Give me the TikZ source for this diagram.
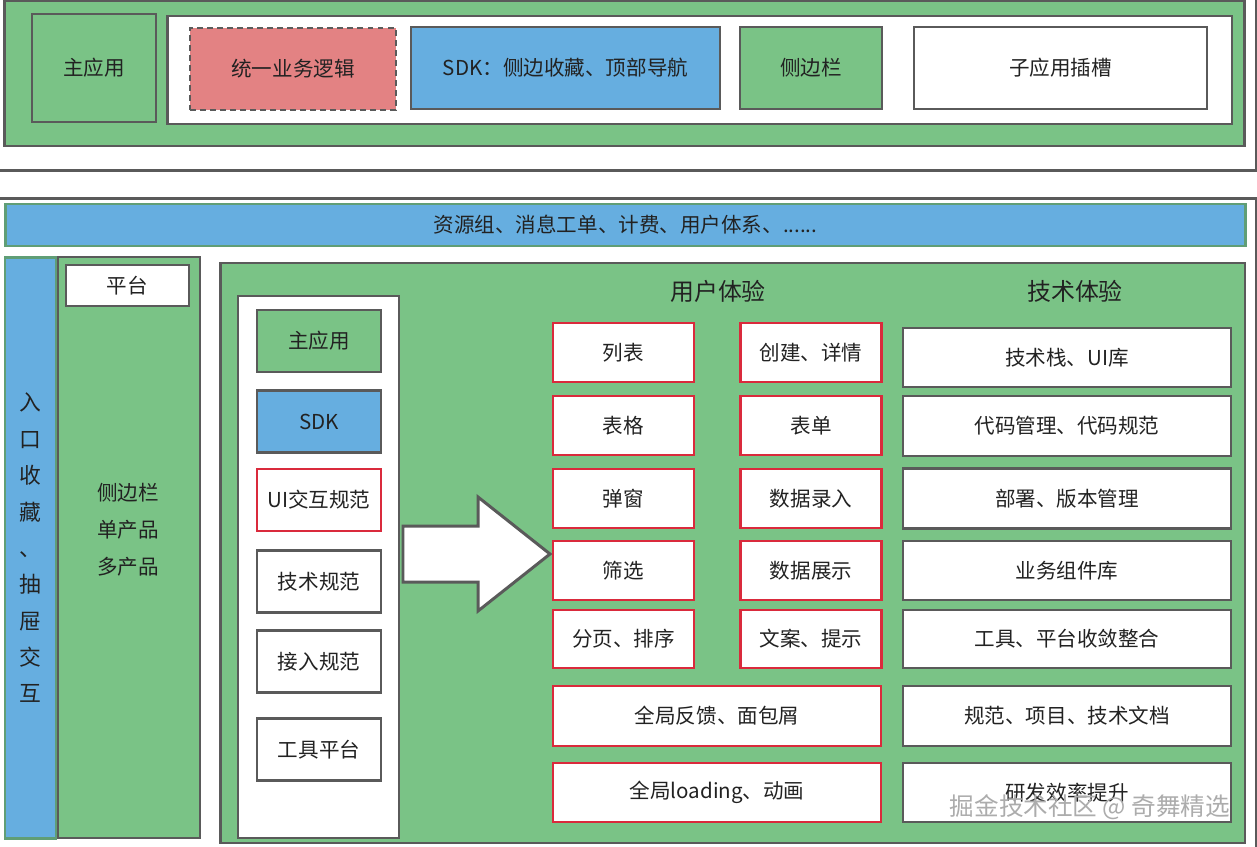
\documentclass[tikz,border=0pt]{standalone}
\usepackage{fontspec}
\setmainfont{Noto Sans CJK SC}
\definecolor{appgreen}{RGB}{122,195,134}
\definecolor{sdkblue}{RGB}{102,174,224}
\definecolor{logicred}{RGB}{227,130,131}
\definecolor{edgegray}{RGB}{90,90,90}
\definecolor{specred}{RGB}{218,42,60}
\definecolor{barline}{RGB}{96,158,118}
\definecolor{txtgray}{RGB}{34,34,34}
\newcommand{\bodyfont}{\fontsize{11.7pt}{14pt}\selectfont}
\tikzset{
  frame/.style={draw=edgegray, line width=1.7pt},
  cell/.style={draw=edgegray, line width=1.6pt, fill=white, inner sep=0pt,
    align=center, font=\bodyfont, text=txtgray},
  greencell/.style={cell, fill=appgreen},
  bluecell/.style={cell, fill=sdkblue},
  logiccell/.style={cell, fill=logicred, dash pattern=on 3.4pt off 2.3pt},
  redcell/.style={cell, draw=specred, line width=1.4pt},
  headtext/.style={font=\fontsize{13.6pt}{16pt}\selectfont, text=txtgray},
}

\begin{document}
\begin{tikzpicture}[x=0.02cm, y=-0.02cm]
  \useasboundingbox (0,0) rectangle (1257,846);

  % Top: application shell
  \draw[frame, fill=white] (-10,-10) rectangle (1256,170);
  \node[greencell, minimum width=24.82cm, minimum height=2.9cm] (shell) at (624.5,73.5) {};
  \node[greencell, minimum width=2.48cm, minimum height=2.16cm] (mainapp) at (94,68) {主应用};
  \node[cell, minimum width=21.3cm, minimum height=2.16cm] (slotbar) at (699.5,70) {};
  \node[logiccell, minimum width=4.12cm, minimum height=1.64cm] (logic) at (293,69) {统一业务逻辑};
  \node[bluecell, minimum width=6.18cm, minimum height=1.64cm] (sdk) at (565.5,68) {SDK：侧边收藏、顶部导航};
  \node[greencell, minimum width=2.84cm, minimum height=1.64cm] (sidebar) at (811,68) {侧边栏};
  \node[cell, minimum width=5.86cm, minimum height=1.64cm] (subapp) at (1060.5,68) {子应用插槽};

  % Bottom: platform
  \draw[frame, fill=white] (-10,198) rectangle (1256,870);
  \node[bluecell, draw=barline, minimum width=24.82cm, minimum height=0.84cm] (resbar) at (625.5,225)
    {资源组、消息工单、计费、用户体系、......};
  \node[bluecell, draw=barline, minimum width=1.02cm, minimum height=11.62cm,
        font=\fontsize{12.4pt}{20.7pt}\selectfont] (entry) at (30.5,548)
    {入\\口\\收\\藏\\、\\抽\\屉\\交\\互};
  \node[greencell, minimum width=2.84cm, minimum height=11.62cm] (platcol) at (129,547.5) {};
  \node[cell, minimum width=2.46cm, minimum height=0.82cm] (plat) at (127.5,285.5) {平台};
  \node[font=\fontsize{11.7pt}{21pt}\selectfont, align=center, text=txtgray] (platmodes) at (128,530)
    {侧边栏\\单产品\\多产品};

  % Stage with spec column
  \node[greencell, minimum width=20.5cm, minimum height=11.6cm] (stage) at (732.5,553) {};
  \node[cell, minimum width=3.22cm, minimum height=10.84cm] (speccol) at (318.5,567) {};
  \node[greencell, minimum width=2.48cm, minimum height=1.24cm] (spmain) at (319,341) {主应用};
  \node[bluecell, minimum width=2.48cm, minimum height=1.24cm] (spsdk) at (319,421.5) {SDK};
  \node[redcell, minimum width=2.48cm, minimum height=1.24cm] (spui) at (319,500) {UI交互规范};
  \node[cell, minimum width=2.48cm, minimum height=1.24cm] (sptech) at (319,581.5) {技术规范};
  \node[cell, minimum width=2.48cm, minimum height=1.24cm] (spjoin) at (319,661.5) {接入规范};
  \node[cell, minimum width=2.48cm, minimum height=1.24cm] (sptool) at (319,749.5) {工具平台};

  % Big arrow
  \draw[frame, fill=white, line join=miter] (403,526) -- (478,526) -- (478,497) -- (550,554)
    -- (478,611) -- (478,582) -- (403,582) -- cycle;

  % Headers
  \node[headtext] (uxhead) at (718,291) {用户体验};
  \node[headtext] (techhead) at (1075,291) {技术体验};

  % User experience
  \node[redcell, minimum width=2.82cm, minimum height=1.18cm] (uxlist) at (623.5,352.5) {列表};
  \node[redcell, minimum width=2.82cm, minimum height=1.18cm] (uxcreate) at (811,352.5) {创建、详情};
  \node[redcell, minimum width=2.82cm, minimum height=1.18cm] (uxtable) at (623.5,425.5) {表格};
  \node[redcell, minimum width=2.82cm, minimum height=1.18cm] (uxform) at (811,425.5) {表单};
  \node[redcell, minimum width=2.82cm, minimum height=1.18cm] (uxpopup) at (623.5,498.5) {弹窗};
  \node[redcell, minimum width=2.82cm, minimum height=1.18cm] (uxinput) at (811,498.5) {数据录入};
  \node[redcell, minimum width=2.82cm, minimum height=1.18cm] (uxfilter) at (623.5,570.5) {筛选};
  \node[redcell, minimum width=2.82cm, minimum height=1.18cm] (uxshow) at (811,570.5) {数据展示};
  \node[redcell, minimum width=2.82cm, minimum height=1.16cm] (uxpage) at (623.5,639) {分页、排序};
  \node[redcell, minimum width=2.82cm, minimum height=1.16cm] (uxcopy) at (811,639) {文案、提示};
  \node[redcell, minimum width=6.56cm, minimum height=1.2cm] (uxfeedback) at (717,716) {全局反馈、面包屑};
  \node[redcell, minimum width=6.56cm, minimum height=1.18cm] (uxloading) at (717,792.5) {全局loading、动画};

  % Tech experience
  \node[cell, minimum width=6.56cm, minimum height=1.18cm] (tkstack) at (1067,357.5) {技术栈、UI库};
  \node[cell, minimum width=6.56cm, minimum height=1.2cm] (tkcode) at (1067,426) {代码管理、代码规范};
  \node[cell, minimum width=6.56cm, minimum height=1.2cm] (tkdeploy) at (1067,498.5) {部署、版本管理};
  \node[cell, minimum width=6.56cm, minimum height=1.18cm] (tkcomp) at (1067,570.5) {业务组件库};
  \node[cell, minimum width=6.56cm, minimum height=1.16cm] (tktools) at (1067,639) {工具、平台收敛整合};
  \node[cell, minimum width=6.56cm, minimum height=1.2cm] (tkdocs) at (1067,716) {规范、项目、技术文档};
  \node[cell, minimum width=6.56cm, minimum height=1.18cm] (tkeff) at (1067,792.5) {研发效率提升};

  % Watermark
  \node[font=\fontsize{14pt}{16pt}\selectfont, text=gray!65] (mark) at (1090,807) {掘金技术社区 @ 奇舞精选};
\end{tikzpicture}
\end{document}
